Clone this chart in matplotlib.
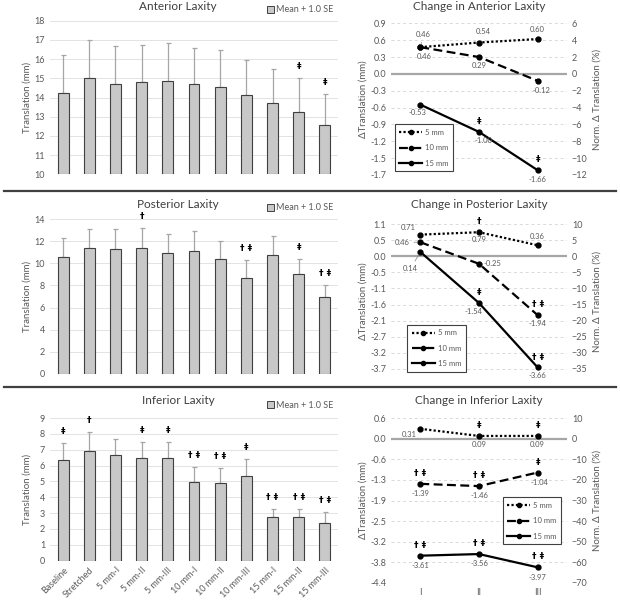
import matplotlib.pyplot as plt
from matplotlib.lines import Line2D
from matplotlib.patches import Patch
import numpy as np

plt.rcParams['font.family'] = ['Lato', 'DejaVu Sans']

# ---- bar chart data (mm) ----
conditions = ['Baseline', 'Stretched', '5 mm-I', '5 mm-II', '5 mm-III', '10 mm-I',
              '10 mm-II', '10 mm-III', '15 mm-I', '15 mm-II', '15 mm-III']

ant_mean = [14.22, 15.03, 14.70, 14.79, 14.84, 14.70, 14.53, 14.11, 13.70, 13.23, 12.57]
ant_se = [1.98, 1.98, 2.00, 1.93, 2.02, 1.86, 1.93, 1.86, 1.77, 1.79, 1.61]
ant_sig = ['', '', '', '', '', '', '', '', '', '‡', '‡']

post_mean = [10.61, 11.37, 11.34, 11.43, 10.98, 11.10, 10.40, 8.71, 10.77, 9.08, 6.93]
post_se = [1.73, 1.75, 1.78, 1.75, 1.72, 1.81, 1.60, 1.57, 1.72, 1.29, 1.14]
post_sig = ['', '', '', '†', '', '', '', '† ‡', '', '‡', '† ‡']

inf_mean = [6.34, 6.89, 6.66, 6.45, 6.45, 4.96, 4.88, 5.32, 2.73, 2.76, 2.37]
inf_se = [1.11, 1.21, 1.04, 1.06, 1.02, 0.98, 0.96, 1.08, 0.51, 0.52, 0.68]
inf_sig = ['‡', '†', '', '‡', '‡', '† ‡', '† ‡', '‡', '† ‡', '† ‡', '† ‡']

# ---- change charts (mm) ----
stages = ['I', 'II', 'III']
sizes = ['5 mm', '10 mm', '15 mm']

ant_change = [[0.46, 0.54, 0.60], [0.46, 0.29, -0.12], [-0.53, -1.00, -1.66]]
ant_change_sig = [['', '', ''], ['', '', ''], ['', '‡', '‡']]
ant_pct_ticks = [6, 4, 2, 0, -2, -4, -6, -8, -10, -12]
ant_mm_labels = ['0.9', '0.6', '0.3', '0.0', '-0.3', '-0.6', '-0.9', '-1.2', '-1.5', '-1.7']

post_change = [[0.71, 0.79, 0.36], [0.46, -0.25, -1.94], [0.14, -1.54, -3.66]]
post_change_sig = [['', '†', ''], ['', '', '† ‡'], ['', '‡', '† ‡']]
post_pct_ticks = [10, 5, 0, -5, -10, -15, -20, -25, -30, -35]
post_mm_labels = ['1.1', '0.5', '0.0', '-0.5', '-1.1', '-1.6', '-2.1', '-2.7', '-3.2', '-3.7']

inf_change = [[0.31, 0.09, 0.09], [-1.39, -1.46, -1.04], [-3.61, -3.56, -3.97]]
inf_change_sig = [['', '‡', '‡'], ['† ‡', '† ‡', '‡'], ['† ‡', '† ‡', '† ‡']]
inf_pct_ticks = [10, 0, -10, -20, -30, -40, -50, -60, -70]
inf_mm_labels = ['0.6', '0.0', '-0.6', '-1.3', '-1.9', '-2.5', '-3.2', '-3.8', '-4.4']

GRAY = '#595959'
W, H = 620, 603

fig = plt.figure(figsize=(6.2, 6.03), dpi=100)


def px(x0, y_top, x1, y_bot):
    return [x0 / W, 1 - y_bot / H, (x1 - x0) / W, (y_bot - y_top) / H]


def bar_panel(rect, title, title_y, mean, se, sig, ylim, yticks, show_x):
    ax = fig.add_axes(rect)
    x = np.arange(len(mean))
    base = ylim[0]
    ax.bar(x, np.array(mean) - base, bottom=base, width=0.42, color='#c8c8c8',
           edgecolor='#404040', linewidth=0.8, zorder=3)
    ax.errorbar(x, mean, yerr=[np.zeros(len(se)), se], fmt='none', ecolor='#a6a6a6',
                elinewidth=0.9, capsize=1.8, capthick=0.9, zorder=2)
    for xi, m, s, t in zip(x, mean, se, sig):
        if t:
            ax.annotate(t, (xi, m + s), xytext=(0, 5), textcoords='offset points',
                        ha='center', va='bottom', fontsize=6.5, fontweight='bold',
                        family=['DejaVu Sans'])
    ax.set_xlim(-0.5, len(mean) - 0.5)
    ax.set_ylim(*ylim)
    ax.set_yticks(yticks)
    ax.grid(axis='y', color='#e3e3e3', linewidth=0.7, zorder=0)
    for s in ax.spines.values():
        s.set_visible(False)
    ax.tick_params(length=0, labelsize=6.5, labelcolor=GRAY)
    ax.set_xticks(x)
    if show_x:
        ax.set_xticklabels(conditions, rotation=45, ha='right', rotation_mode='anchor',
                           fontsize=6.5)
    else:
        ax.set_xticklabels([])
    fig.text(178 / W, 1 - title_y / H, title, ha='center', va='center', fontsize=8.5,
             color='#404040')
    fig.text(27 / W, rect[1] + rect[3] / 2, 'Translation (mm)', rotation=90,
             ha='center', va='center', fontsize=7, color=GRAY)
    ax.legend([Patch(facecolor='#c8c8c8', edgecolor='#404040', linewidth=0.7)],
              ['Mean + 1.0 SE'], loc='center right',
              bbox_to_anchor=(342 / W, 1 - title_y / H - 4 / H),
              bbox_transform=fig.transFigure, frameon=False, fontsize=6.5,
              handlelength=0.8, handleheight=0.8, handletextpad=0.3,
              labelcolor=GRAY)
    return ax


def line_panel(rect, title, title_y, change, change_sig, k, pct_ticks, mm_labels,
               pct_lim, offsets, leaders, leg_loc, leg_anchor, show_x):
    ax = fig.add_axes(rect)
    x = np.arange(3)
    styles = [(0, (1, 1)), (0, (4, 2)), '-']
    for vals, sg, ls, offs, lead in zip(change, change_sig, styles, offsets, leaders):
        ax.plot(x, vals, linestyle=ls, color='black', linewidth=1.6, marker='o',
                markersize=3.5, zorder=4)
        for xi, v, t, o, ld in zip(x, vals, sg, offs, lead):
            ap = dict(arrowstyle='-', color='#7f7f7f', lw=0.5,
                      shrinkA=1, shrinkB=2) if ld else None
            ax.annotate(f'{v:.2f}', (xi, v), xytext=o, textcoords='offset points',
                        ha='center', va='center', fontsize=5.5, color=GRAY,
                        arrowprops=ap, zorder=5)
            if t:
                ax.annotate(t, (xi, v), xytext=(0, 7.5), textcoords='offset points',
                            ha='center', va='center', fontsize=6.5, fontweight='bold',
                            family=['DejaVu Sans'])
    ax.axhline(0, color='#a6a6a6', linewidth=1.6, zorder=2)
    ax.set_xlim(-0.5, 2.5)
    ax.set_ylim(pct_lim[0] * k, pct_lim[1] * k)
    ax.set_yticks(np.array(pct_ticks) * k)
    ax.set_yticklabels(mm_labels)
    ax.grid(axis='y', color='#d9d9d9', linewidth=0.7, linestyle=(0, (3, 3)), zorder=0)
    ax.set_xticks(x)
    if show_x:
        ax.set_xticklabels(stages, fontsize=7.5, color=GRAY)
    else:
        ax.set_xticklabels([])
    ax2 = ax.twinx()
    ax2.set_ylim(*pct_lim)
    ax2.set_yticks(pct_ticks)
    for a in (ax, ax2):
        for s in a.spines.values():
            s.set_visible(False)
        a.tick_params(length=0, labelsize=6.5, labelcolor=GRAY)
    handles = [Line2D([], [], linestyle=ls, color='black', linewidth=1.6, marker='o',
                      markersize=3) for ls in styles]
    leg = ax.legend(handles, sizes, loc=leg_loc, bbox_to_anchor=leg_anchor,
                    fontsize=5.5, handlelength=3.0, labelspacing=1.1, fancybox=False,
                    edgecolor='#404040', framealpha=1, borderpad=0.6,
                    handletextpad=0.4, labelcolor=GRAY)
    leg.get_frame().set_linewidth(0.8)
    leg.set_zorder(6)
    fig.text(rect[0] + rect[2] / 2, 1 - title_y / H, title, ha='center', va='center',
             fontsize=8.5, color='#404040')
    fig.text(363 / W, rect[1] + rect[3] / 2, 'ΔTranslation (mm)', rotation=90,
             ha='center', va='center', fontsize=7, color=GRAY)
    fig.text(597 / W, rect[1] + rect[3] / 2, 'Norm. Δ Translation (%)', rotation=90,
             ha='center', va='center', fontsize=7, color=GRAY)
    return ax


# row 1 - anterior
bar_panel(px(50, 20.7, 338, 174.3), 'Anterior Laxity', 6, ant_mean, ant_se, ant_sig,
          (10, 18), range(10, 19), False)
line_panel(px(391, 23.3, 567, 175), 'Change in Anterior Laxity', 6, ant_change,
           ant_change_sig, 0.1452, ant_pct_ticks, ant_mm_labels, (-12, 6),
           [[(2, 9), (3, 8), (0, 7)], [(3, -7), (0, -6), (3, -7)],
            [(-2, -6), (3, -6), (0, -7)]],
           [[True, False, False], [False] * 3, [False] * 3],
           'lower left', (0.0, 0.0), False)

# row 2 - posterior
bar_panel(px(50, 219.3, 338, 373.7), 'Posterior Laxity', 204, post_mean, post_se,
          post_sig, (0, 14), range(0, 15, 2), False)
line_panel(px(391, 224, 567, 378.6), 'Change in Posterior Laxity', 204, post_change,
           post_change_sig, 0.106, post_pct_ticks, post_mm_labels, (-38, 10),
           [[(-9, 5), (0, -5), (0, 6)], [(-13, 0), (10, 0), (0, -6)],
            [(-7, -12), (-4, -6), (0, -6)]],
           [[False] * 3, [True, False, False], [True, False, False]],
           'lower left', (0.07, 0.02), False)

# row 3 - inferior
bar_panel(px(50, 418, 338, 560.7), 'Inferior Laxity', 401, inf_mean, inf_se, inf_sig,
          (0, 9), range(0, 10), True)
line_panel(px(391, 418.3, 567, 582.7), 'Change in Inferior Laxity', 401, inf_change,
           inf_change_sig, 0.0635, inf_pct_ticks, inf_mm_labels, (-70, 10),
           [[(-8, -4), (0, -6), (0, -6)], [(0, -7), (0, -7), (1, -7)],
            [(0, -7), (0, -7), (0, -7)]],
           [[False] * 3, [False] * 3, [False] * 3],
           'lower right', (0.99, 0.21), True)

# separators between rows
for yy in (191, 386.5):
    fig.add_artist(Line2D([4 / W, 616 / W], [1 - yy / H] * 2, color='#404040',
                          linewidth=1.6))

fig.savefig('out.png', dpi=100)
